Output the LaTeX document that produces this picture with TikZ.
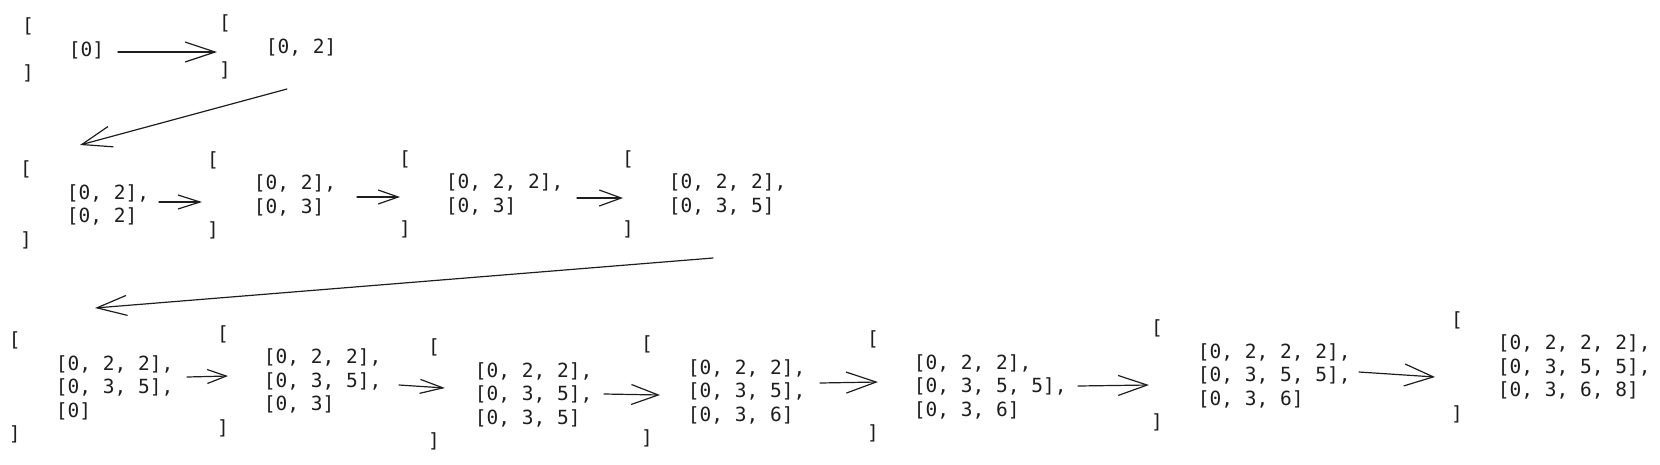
\documentclass[tikz,border=0pt]{standalone}
\usepackage{fontspec}
\setmonofont{DejaVu Sans Mono}
\usetikzlibrary{arrows.meta,calc}
\definecolor{ink}{HTML}{1E1E1E}
\newcommand{\ind}{\hphantom{0000}}
\tikzset{
  blk/.style={inner sep=0pt, outer sep=0pt, anchor=west, align=left, text=ink,
    font=\fontsize{19.5}{23.5}\selectfont\ttfamily\frenchspacing},
  arr/.style={draw=ink, line width=1.2pt, line cap=round, line join=round},
  tipsz/.style 2 args={-{Straight Barb[length=#1pt,width=#2pt]}}
}
\begin{document}
\begin{tikzpicture}[x=1pt,y=-1pt]
\useasboundingbox (0,0) rectangle (1660,464);
% row 1
\node[blk] (b1) at (22,50.3) {{[}\\\ind{[0]}\\{]}};
\node[blk] (b2) at (219,47) {{[}\\\ind{[0, 2]}\\{]}};
% row 2
\node[blk] (b3) at (20,205) {{[}\\\ind{[0, 2],}\\\ind{[0, 2]}\\{]}};
\node[blk] (b4) at (207,195.5) {{[}\\\ind{[0, 2],}\\\ind{[0, 3]}\\{]}};
\node[blk] (b5) at (399,194.5) {{[}\\\ind{[0, 2, 2],}\\\ind{[0, 3]}\\{]}};
\node[blk] (b6) at (622,194.5) {{[}\\\ind{[0, 2, 2],}\\\ind{[0, 3, 5]}\\{]}};
% row 3
\node[blk] (b7) at (9,387.5) {{[}\\\ind{[0, 2, 2],}\\\ind{[0, 3, 5],}\\\ind{[0]}\\{]}};
\node[blk] (b8) at (217,381) {{[}\\\ind{[0, 2, 2],}\\\ind{[0, 3, 5],}\\\ind{[0, 3]}\\{]}};
\node[blk] (b9) at (428,394.5) {{[}\\\ind{[0, 2, 2],}\\\ind{[0, 3, 5],}\\\ind{[0, 3, 5]}\\{]}};
\node[blk] (b10) at (641,391.5) {{[}\\\ind{[0, 2, 2],}\\\ind{[0, 3, 5],}\\\ind{[0, 3, 6]}\\{]}};
\node[blk] (b11) at (867,386.5) {{[}\\\ind{[0, 2, 2],}\\\ind{[0, 3, 5, 5],}\\\ind{[0, 3, 6]}\\{]}};
\node[blk] (b12) at (1151,375.5) {{[}\\\ind{[0, 2, 2, 2],}\\\ind{[0, 3, 5, 5],}\\\ind{[0, 3, 6]}\\{]}};
\node[blk] (b13) at (1451,367) {{[}\\\ind{[0, 2, 2, 2],}\\\ind{[0, 3, 5, 5],}\\\ind{[0, 3, 6, 8]}\\{]}};
% connectors
\draw[arr,tipsz={30}{20}] ($(b1.east)+(13.8,1.7)$) -- ($(b2.west)+(-2,5)$);
\draw[arr,tipsz={30}{21}] ($(b2.west)+(68,42)$) -- ($(b3.west)+(60,-60)$);
\draw[arr,tipsz={22}{14}] ($(b3.east)+(9.9,-3)$) -- ($(b4.west)+(-5,6.5)$);
\draw[arr,tipsz={20}{14}] ($(b4.east)+(20.9,1.5)$) -- ($(b5.west)+(1,2.5)$);
\draw[arr,tipsz={22}{16}] ($(b5.east)+(13.6,3.5)$) -- ($(b6.west)+(1,3.5)$);
\draw[arr,tipsz={30}{20}] ($(b6.west)+(91,63.5)$) -- ($(b7.west)+(86,-79.5)$);
\draw[arr,tipsz={19}{14}] ($(b7.east)+(13.6,-10.5)$) -- ($(b8.west)+(11,-5)$);
\draw[arr,tipsz={23}{14}] ($(b8.east)+(17.6,4)$) -- ($(b9.west)+(17,-6.5)$);
\draw[arr,tipsz={27}{20}] ($(b9.east)+(11.6,-0.5)$) -- ($(b10.west)+(19,3.5)$);
\draw[arr,tipsz={30}{21}] ($(b10.east)+(14.6,-8.5)$) -- ($(b11.west)+(11,-4.5)$);
\draw[arr,tipsz={29}{20}] ($(b11.east)+(11.4,-0.5)$) -- ($(b12.west)+(-2,9.5)$);
\draw[arr,tipsz={29}{22}] ($(b12.east)+(8.4,-3.5)$) -- ($(b13.west)+(-16,10)$);
\end{tikzpicture}
\end{document}
